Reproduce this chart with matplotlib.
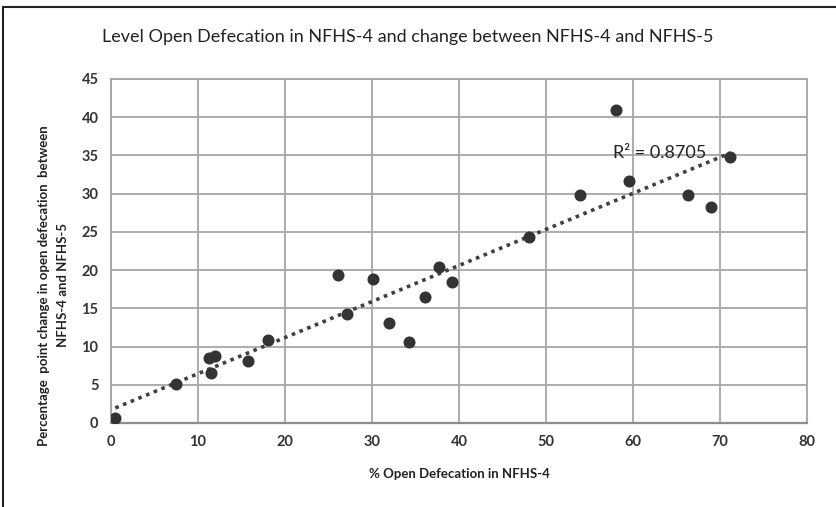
import numpy as np
import matplotlib
matplotlib.use("Agg")
import matplotlib.pyplot as plt
from matplotlib.lines import Line2D

plt.rcParams['font.family'] = ['Lato', 'DejaVu Sans']

# % open defecation in NFHS-4 (x) and percentage point change NFHS-4 -> NFHS-5 (y)
od_nfhs4 = [0.5, 7.5, 11.3, 11.9, 11.5, 15.8, 18.0, 26.1, 27.1, 30.1, 32.0,
            34.3, 36.1, 37.7, 39.2, 48.1, 53.9, 58.1, 59.5, 66.3, 69.0, 71.2]
od_change = [0.6, 5.1, 8.5, 8.7, 6.5, 8.1, 10.8, 19.3, 14.3, 18.8, 13.1,
             10.6, 16.5, 20.4, 18.5, 24.3, 29.8, 40.9, 31.6, 29.8, 28.2, 34.8]
r2_label = "R² = 0.8705"
x_ticks = [0, 10, 20, 30, 40, 50, 60, 70, 80]
y_ticks = [0, 5, 10, 15, 20, 25, 30, 35, 40, 45]

fig = plt.figure(figsize=(8.36, 5.07), dpi=100)
ax = fig.add_axes([111/836, 1-423/507, 696/836, 344/507])

x = np.array(od_nfhs4)
y = np.array(od_change)

# linear trend line like excel's
slope, icpt = np.polyfit(x, y, 1)
xs = np.array([x.min(), x.max()])
ax.plot(xs, slope*xs + icpt, linestyle=(0, (1, 1.3)), color='#404040', lw=2.6, zorder=3)

ax.scatter(x, y, s=75, color='#333333', zorder=4, linewidths=0)

ax.text(57.7, 35.3, r2_label, fontsize=13, va='center', ha='left', color='#222222',
        zorder=5)

ax.set_xlim(0, 80)
ax.set_ylim(0, 45)
ax.set_xticks(x_ticks)
ax.set_yticks(y_ticks)
ax.tick_params(length=0, labelsize=10.5, colors='#333333', pad=9)
for lab in ax.get_xticklabels() + ax.get_yticklabels():
    lab.set_fontweight('bold')
ax.grid(True, color='#a6a6a6', lw=1.3)
ax.set_axisbelow(True)
for s in ax.spines.values():
    s.set_color('#a6a6a6')
    s.set_linewidth(1.3)
ax.spines['bottom'].set_color('#8c8c8c')
ax.spines['bottom'].set_linewidth(1.6)

ax.set_xlabel("% Open Defecation in NFHS-4", fontsize=9.5, color='#222222',
              fontweight='bold')
ax.xaxis.set_label_coords(0.5, -0.13)
ax.set_ylabel("Percentage  point change in open defecation  between\nNFHS-4 and NFHS-5",
              fontsize=9.5, color='#222222', linespacing=1.7, fontweight='bold')
ax.yaxis.set_label_coords(-0.06, 0.4)

fig.text(0.5 - 10/836, 1 - 37/507,
         "Level Open Defecation in NFHS-4 and change between NFHS-4 and NFHS-5",
         ha='center', va='center', fontsize=13, color='#222222')

# outer chart border (left and top edges only visible)
fig.add_artist(Line2D([3/836, 3/836], [0, 1 - 7/507], color='#222222', lw=1.5,
                      transform=fig.transFigure))
fig.add_artist(Line2D([3/836, 1], [1 - 7/507, 1 - 7/507], color='#222222', lw=1.5,
                      transform=fig.transFigure))

fig.savefig('out.png', dpi=100)
